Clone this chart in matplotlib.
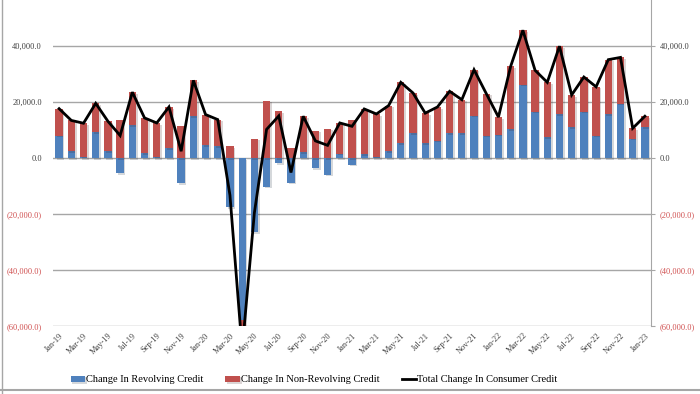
import matplotlib
matplotlib.use("Agg")
import matplotlib.pyplot as plt
import matplotlib.patheffects as pe
from matplotlib.lines import Line2D
import numpy as np

months = ["Jan-19","Feb-19","Mar-19","Apr-19","May-19","Jun-19","Jul-19","Aug-19","Sep-19","Oct-19","Nov-19","Dec-19",
          "Jan-20","Feb-20","Mar-20","Apr-20","May-20","Jun-20","Jul-20","Aug-20","Sep-20","Oct-20","Nov-20","Dec-20",
          "Jan-21","Feb-21","Mar-21","Apr-21","May-21","Jun-21","Jul-21","Aug-21","Sep-21","Oct-21","Nov-21","Dec-21",
          "Jan-22","Feb-22","Mar-22","Apr-22","May-22","Jun-22","Jul-22","Aug-22","Sep-22","Oct-22","Nov-22","Dec-22",
          "Jan-23"]

revolving = [8000, 2400, 500, 9300, 2400, -5400, 11600, 1600, 200, 3500, -9100, 14900,
             4500, 4100, -17600, -58000, -26500, -10200, -1800, -8800, 2000, -3600, -6000, 1500,
             -2400, 1300, 300, 2400, 5400, 8900, 5400, 6200, 8900, 8900, 15100, 8000,
             8300, 10300, 26200, 16500, 7500, 15600, 10900, 16500, 8000, 15700, 19400, 6900,
             11000]

nonrevolving = [9600, 11000, 11900, 10200, 10700, 13400, 11900, 12700, 12300, 14700, 11500, 12800,
                11000, 9600, 4300, -10500, 6900, 20400, 16800, 3600, 12900, 9700, 10500, 11000,
                13700, 16200, 15400, 16300, 21600, 14300, 10600, 12000, 14900, 11900, 16400, 15000,
                6300, 22400, 19400, 14800, 19500, 24300, 11600, 12400, 17400, 19400, 16500, 3700,
                3900]

yticks = [-60000, -40000, -20000, 0, 20000, 40000]

rev = np.array(revolving, dtype=float)
nonrev = np.array(nonrevolving, dtype=float)
total = rev + nonrev
x = np.arange(len(months))
red_bottom = np.where(np.sign(rev) == np.sign(nonrev), rev, 0.0)

BLUE = "#4F81BD"
RED = "#C0504D"
plt.rcParams['font.family'] = ['Liberation Serif', 'DejaVu Serif']

fig = plt.figure(figsize=(7.0, 3.94), dpi=100)
ax = fig.add_axes([53/700, 1 - 326/394, (651 - 53)/700, 326/394])

shadow = [pe.SimplePatchShadow(offset=(1.2, -1.2), alpha=0.18), pe.Normal()]
b1 = ax.bar(x, rev, width=0.6, color=BLUE, zorder=3, label="Change In Revolving Credit")
b2 = ax.bar(x, nonrev, bottom=red_bottom, width=0.6, color=RED, zorder=3,
            label="Change In Non-Revolving Credit")
for p in list(b1) + list(b2):
    p.set_path_effects(shadow)
ln, = ax.plot(x, total, color="black", lw=2.0, zorder=4, solid_joinstyle='miter',
              label="Total Change In Consumer Credit")

ax.set_xlim(-0.5, len(months) - 0.5)
ax.set_ylim(-60000, 56400)
ax.set_yticks(yticks)
ax.grid(axis='y', color='#A6A6A6', lw=1.0, zorder=0)
ax.set_axisbelow(True)

def fmt(v):
    return f"({abs(v):,.1f})" if v < 0 else f"{v:,.1f}"

ax.set_yticklabels([fmt(v) for v in yticks])
for lab, v in zip(ax.get_yticklabels(), yticks):
    lab.set_color('#D05050' if v < 0 else '#404040')
    lab.set_fontsize(6)
ax.tick_params(axis='y', length=0, pad=8)

ax2 = ax.twinx()
ax2.set_ylim(ax.get_ylim())
ax2.set_yticks(yticks)
ax2.set_yticklabels([fmt(v) for v in yticks])
for lab, v in zip(ax2.get_yticklabels(), yticks):
    lab.set_color('#D05050' if v < 0 else '#404040')
    lab.set_fontsize(6)
ax2.tick_params(axis='y', length=3, color='#A6A6A6', pad=3)

ax.set_xticks(x[::2])
ax.set_xticklabels(months[::2], rotation=45, ha='right', rotation_mode='anchor',
                   fontsize=6, color='#404040')
ax.tick_params(axis='x', length=0, pad=4)

for a in (ax, ax2):
    for s in ['top', 'left', 'bottom']:
        a.spines[s].set_visible(False)
    a.spines['right'].set_color('#A6A6A6')
ax.spines['right'].set_visible(False)

fig.legend(handles=[b1, b2, ln], loc='center', bbox_to_anchor=(314/700, 1 - 380/394),
           ncol=3, frameon=False, fontsize=7.5, handlelength=1.4, handleheight=0.6,
           handletextpad=0.1, columnspacing=2.1)

fig.add_artist(Line2D([2/700, 2/700], [0, 1], color='#A6A6A6', lw=1.0))
fig.add_artist(Line2D([0, 1], [1 - 390/394, 1 - 390/394], color='#A6A6A6', lw=1.5))

fig.savefig("out.png", dpi=100)
